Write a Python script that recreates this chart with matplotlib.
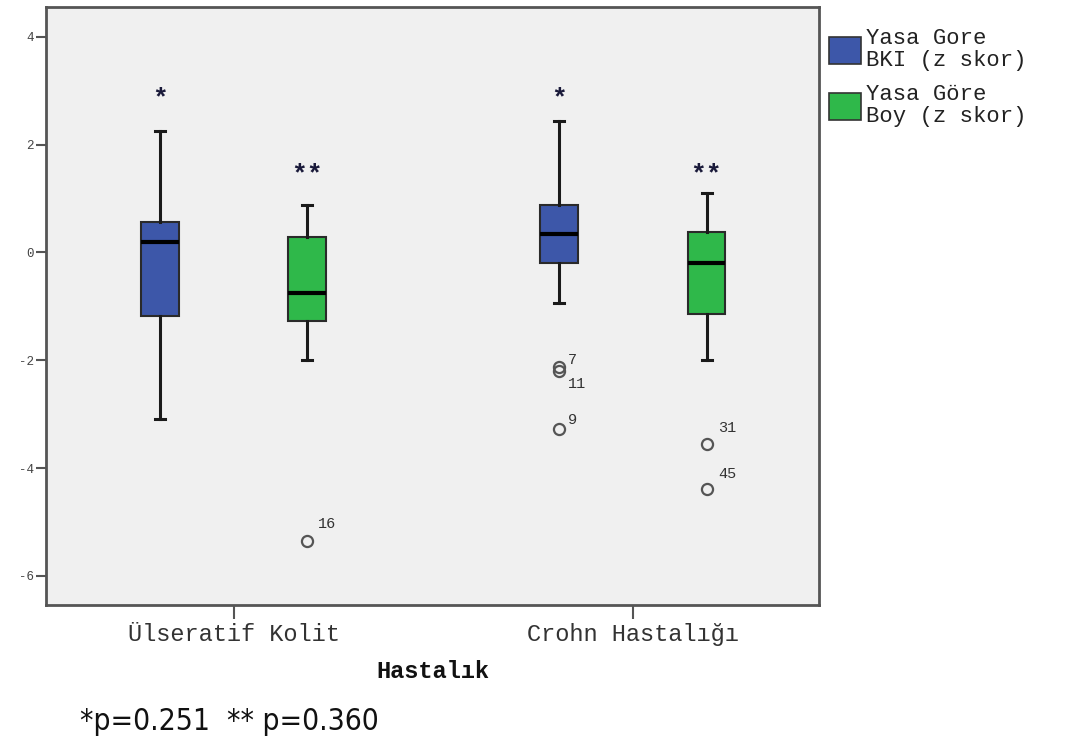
import matplotlib
matplotlib.use('Agg')
import matplotlib.pyplot as plt
from matplotlib.patches import Patch

# Data
groups = ['Ülseratif Kolit', 'Crohn Hastalığı']
series_names = ['Yasa Gore\nBKI (z skor)', 'Yasa Göre\nBoy (z skor)']

bki_whislo = [-3.09, -0.94]
bki_q1 = [-1.18, -0.19]
bki_med = [0.20, 0.34]
bki_q3 = [0.56, 0.87]
bki_whishi = [2.25, 2.43]
bki_outliers = [[], [-2.12, -2.20, -3.27]]
bki_outlier_ids = [[], ['7', '11', '9']]

boy_whislo = [-1.99, -2.00]
boy_q1 = [-1.27, -1.14]
boy_med = [-0.75, -0.19]
boy_q3 = [0.28, 0.38]
boy_whishi = [0.88, 1.11]
boy_outliers = [[-5.35], [-3.56, -4.39]]
boy_outlier_ids = [['16'], ['31', '45']]

star_text = ['*', '**']
star_y = [2.96, 1.56]

yticks = [-6, -4, -2, 0, 2, 4]
p_note = '*p=0.251  ** p=0.360'

colors = ['#3d57a9', '#2fb84a']
mono = 'Liberation Mono'

# label offsets in pixels (style only)
id_offsets = {'7': (9, 7), '11': (9, -13), '9': (9, 9),
              '16': (11, 17), '31': (12, 16), '45': (12, 15)}


def make_stats(whislo, q1, med, q3, whishi, fliers):
    stats = []
    for i in range(len(med)):
        stats.append({'whislo': whislo[i], 'q1': q1[i], 'med': med[i],
                      'q3': q3[i], 'whishi': whishi[i], 'fliers': fliers[i]})
    return stats


fig = plt.figure(figsize=(10.88, 7.4), dpi=100)
ax = fig.add_axes([0.0423, 0.1824, 0.7109, 0.8081])
ax.set_facecolor('#f0f0f0')

offset = 0.185
width = 0.095
all_stats = [
    make_stats(bki_whislo, bki_q1, bki_med, bki_q3, bki_whishi, bki_outliers),
    make_stats(boy_whislo, boy_q1, boy_med, boy_q3, boy_whishi, boy_outliers),
]
all_ids = [bki_outlier_ids, boy_outlier_ids]
all_fliers = [bki_outliers, boy_outliers]

for s, stats in enumerate(all_stats):
    pos = [i + (offset if s else -offset) for i in range(len(groups))]
    ax.bxp(stats, positions=pos, widths=width, capwidths=0.025,
           patch_artist=True, showfliers=True,
           boxprops=dict(facecolor=colors[s], edgecolor='#2a2a2a', linewidth=1.5),
           medianprops=dict(color='black', linewidth=3),
           whiskerprops=dict(color='#1a1a1a', linewidth=2.2),
           capprops=dict(color='#1a1a1a', linewidth=2.2),
           flierprops=dict(marker='o', markerfacecolor='none',
                           markeredgecolor='#555555', markersize=8,
                           markeredgewidth=1.6))
    for i in range(len(groups)):
        for val, lab in zip(all_fliers[s][i], all_ids[s][i]):
            ax.annotate(lab, (pos[i], val), xytext=id_offsets[lab],
                        textcoords='offset pixels', fontsize=11,
                        family=mono, color='#333333', ha='left', va='center')
        ax.annotate(star_text[s], (pos[i], star_y[s]), xytext=(0, -6),
                    textcoords='offset pixels', ha='center', va='center',
                    fontsize=19, family=mono, fontweight='bold', color='#1a1a3a')

ax.set_xlim(-0.47, 1.468)
ax.set_ylim(-6.54, 4.55)
ax.set_xticks(range(len(groups)))
ax.set_xticklabels(groups, family=mono, fontsize=17, color='#333333')
ax.set_yticks(yticks)
ax.set_yticklabels([str(t) for t in yticks], family=mono, fontsize=9,
                   color='#444444')
ax.tick_params(axis='y', direction='out', length=7, width=1.5, color='#555555', pad=2)
ax.tick_params(axis='x', direction='out', length=10, width=1.5, color='#555555', pad=3)
for sp in ax.spines.values():
    sp.set_color('#555555')
    sp.set_linewidth(2)

ax.set_xlabel('Hastalık', family=mono, fontweight='bold', fontsize=17,
              labelpad=10, color='#111111')

handles = [Patch(facecolor=c, edgecolor='#333333', linewidth=1.2) for c in colors]
leg = fig.legend(handles, series_names, loc='upper left',
                 bbox_to_anchor=(0.762, 0.962), frameon=False,
                 prop={'family': mono, 'size': 16}, handlelength=1.45,
                 handleheight=1.5, handletextpad=0.2, labelspacing=0.6,
                 borderaxespad=0, borderpad=0)
for t in leg.get_texts():
    t.set_linespacing(1.05)
    t.set_color('#222222')

fig.text(80 / 1088, 1 - 722 / 740, p_note, family='DejaVu Sans',
         fontstretch='condensed', fontsize=21.5, va='center', ha='left',
         color='#111111')

fig.savefig('out.png', dpi=100)
